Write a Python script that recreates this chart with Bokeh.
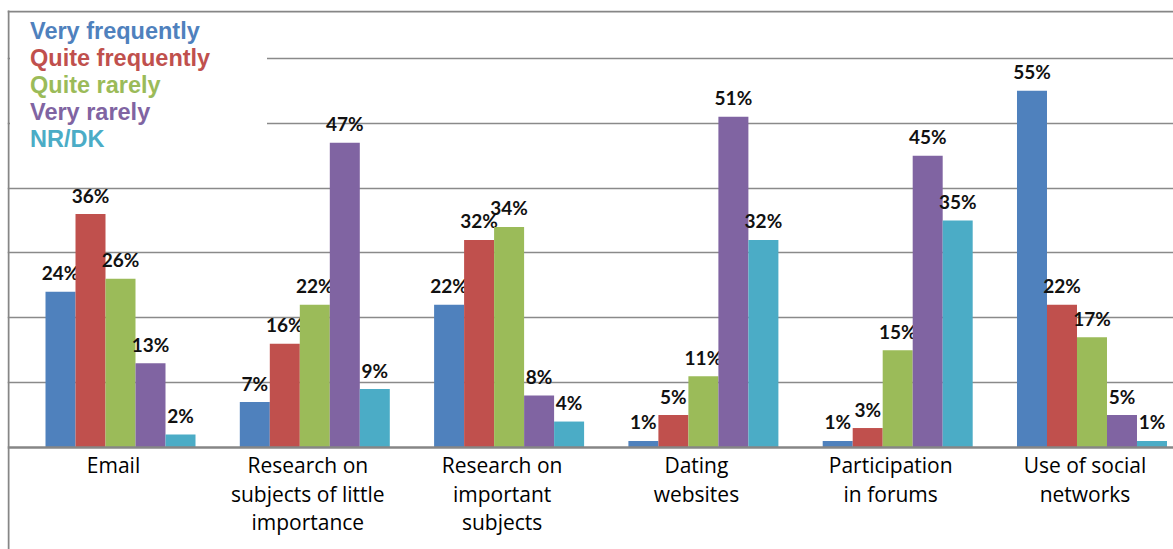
import numpy as np
from bokeh.plotting import figure
from bokeh.models import ColumnDataSource, FixedTicker, Legend, LegendItem, BoxAnnotation, Range1d, Span
from bokeh.core.properties import value
from bokeh.embed import file_html
from bokeh.resources import INLINE

categories = ["Email", "Research on\nsubjects of little\nimportance", "Research on\nimportant\nsubjects",
              "Dating\nwebsites", "Participation\nin forums", "Use of social\nnetworks"]
series = ["Very frequently", "Quite frequently", "Quite rarely", "Very rarely", "NR/DK"]
very_frequently = [24, 7, 22, 1, 1, 55]
quite_frequently = [36, 16, 32, 5, 3, 22]
quite_rarely = [26, 22, 34, 11, 15, 17]
very_rarely = [13, 47, 8, 51, 45, 5]
nr_dk = [2, 9, 4, 32, 35, 1]
values = [very_frequently, quite_frequently, quite_rarely, very_rarely, nr_dk]
colors = ["#4F81BD", "#C0504D", "#9BBB59", "#8064A2", "#4BACC6"]
grid_ticks = [10, 20, 30, 40, 50, 60]

W, H = 1173, 549
p = figure(width=W, height=H, output_backend="svg", toolbar_location=None,
           x_range=Range1d(-0.5816, 5.4195), y_range=Range1d(-15.73, 67.38),
           min_border_left=7, min_border_right=0, min_border_top=10, min_border_bottom=0,
           outline_line_color=None, background_fill_color="white", border_fill_color="white")

p.xaxis.visible = False
p.yaxis.visible = False
p.xgrid.visible = False
p.yaxis.ticker = FixedTicker(ticks=grid_ticks)
p.ygrid.grid_line_color = "#8a8a8a"
p.ygrid.grid_line_width = 1.5

idx = np.arange(len(categories))
bar_w = 30 / 194.3
renderers = []
for j, (name, vals) in enumerate(zip(series, values)):
    xs = idx + (j - 2) * bar_w
    src = ColumnDataSource(dict(x=xs, top=vals, label=[f"{v}%" for v in vals]))
    r = p.vbar(x="x", top="top", bottom=0, width=bar_w, source=src,
               fill_color=colors[j], line_color=None)
    renderers.append(r)
    p.text(x="x", y="top", text="label", source=src, text_align="center",
           text_baseline="alphabetic", y_offset=-19, text_font=value("Lato"),
           text_font_style="bold", text_font_size="19px", text_color="#111111")

# category axis labels under the baseline
cat_src = ColumnDataSource(dict(x=idx, y=np.zeros(len(idx)), text=categories))
p.text(x="x", y="y", text="text", source=cat_src, text_align="center", text_baseline="top",
       x_offset=-7, y_offset=4, text_font=value("Open Sans"), text_font_size="21px",
       text_line_height=1.015, text_color="#000000")

# baseline (category axis line)
p.add_layout(Span(location=0, dimension="width", line_color="#868686", line_width=2.5))

for j in range(len(series)):
    leg = Legend(items=[LegendItem(label=series[j], renderers=[renderers[j]])],
                 location=(3, 504 - 27 * j), orientation="vertical",
                 padding=0, margin=0, spacing=0, glyph_width=0, glyph_height=27,
                 label_height=27, label_width=237, label_standoff=20,
                 label_text_color=colors[j], label_text_font="Liberation Sans",
                 label_text_font_style="bold", label_text_font_size="23.5px",
                 border_line_color=None, background_fill_color="white", background_fill_alpha=1)
    p.add_layout(leg, "center")

left_border = BoxAnnotation(left=0, right=2, bottom=-5, top=545,
                            left_units="screen", right_units="screen",
                            bottom_units="screen", top_units="screen",
                            fill_color="#868686", fill_alpha=1, line_color=None)
top_border = BoxAnnotation(left=0, right=1170, bottom=537, top=539,
                           left_units="screen", right_units="screen",
                           bottom_units="screen", top_units="screen",
                           fill_color="#868686", fill_alpha=1, line_color=None)
p.add_layout(left_border)
p.add_layout(top_border)

open("out.html", "w").write(file_html(p, INLINE))
